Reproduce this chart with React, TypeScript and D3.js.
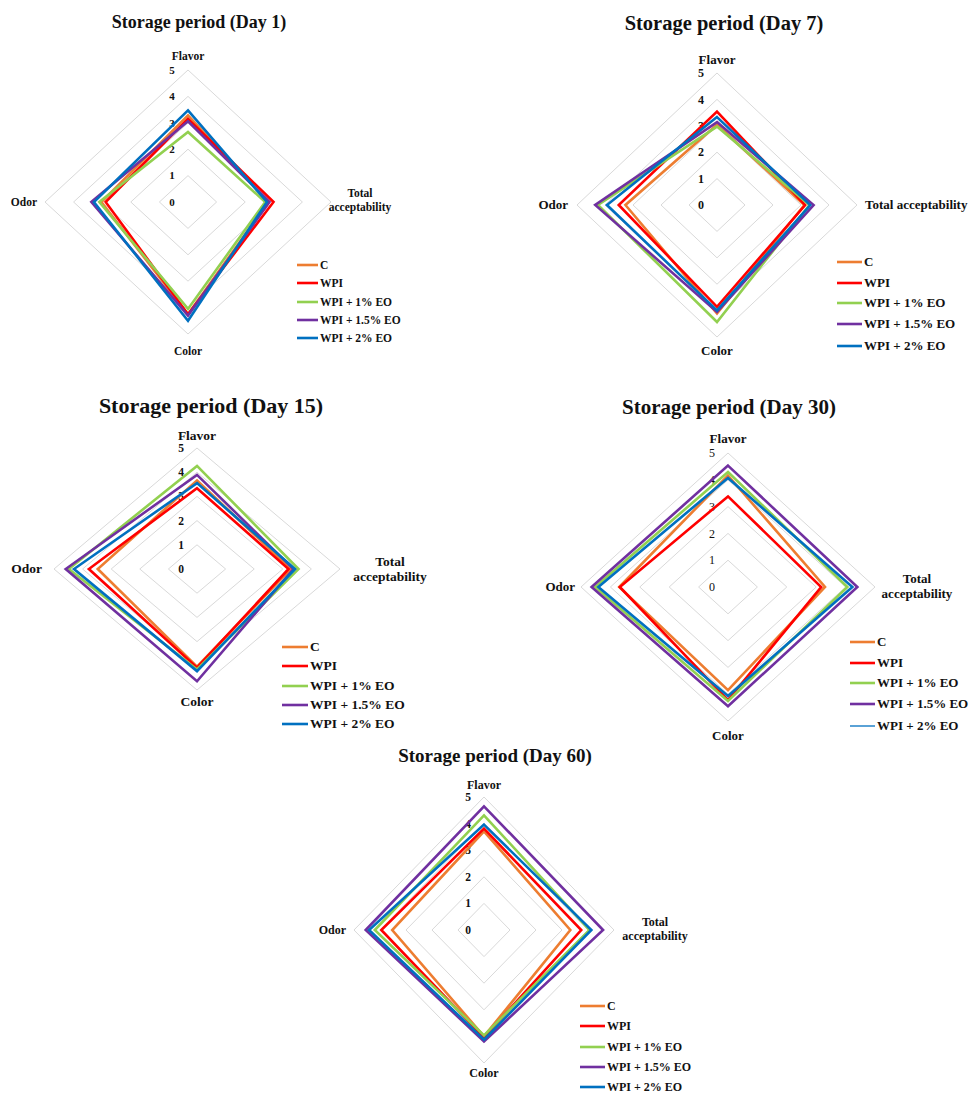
import React, { useEffect, useRef } from 'react';
import * as d3 from 'd3';

// axis order clockwise from top
const axes = ['Flavor', 'Total acceptability', 'Color', 'Odor'];
const series = ['C', 'WPI', 'WPI + 1% EO', 'WPI + 1.5% EO', 'WPI + 2% EO'];
const colors = ['#ED7D31', '#FF0000', '#92D050', '#7030A0', '#0070C0'];
const ticks = [0, 1, 2, 3, 4, 5];

// rows = series, values = [Flavor, Total acceptability, Color, Odor]
const day1 = [
  [3.28, 2.81, 4.25, 3.03],
  [3.15, 2.99, 4.25, 2.88],
  [2.65, 2.70, 4.05, 3.10],
  [3.06, 2.85, 4.30, 3.38],
  [3.47, 2.76, 4.50, 3.29],
];
const day7 = [
  [3.04, 3.12, 4.11, 3.27],
  [3.54, 3.15, 3.86, 3.51],
  [2.97, 3.30, 4.43, 4.25],
  [3.14, 3.45, 4.05, 4.35],
  [3.33, 3.33, 3.99, 3.93],
];
const day15 = [
  [3.66, 3.28, 4.04, 3.47],
  [3.34, 3.20, 4.08, 3.78],
  [4.26, 3.55, 4.15, 4.48],
  [3.89, 3.37, 4.64, 4.59],
  [3.55, 3.43, 4.22, 4.30],
];
const day30 = [
  [4.16, 3.30, 3.85, 3.70],
  [3.38, 3.17, 4.22, 3.68],
  [4.29, 4.06, 4.25, 4.52],
  [4.53, 4.40, 4.45, 4.64],
  [4.07, 4.23, 4.07, 4.41],
];
const day60 = [
  [3.71, 3.32, 4.00, 3.53],
  [3.81, 3.74, 4.04, 3.95],
  [4.31, 4.06, 3.96, 4.20],
  [4.65, 4.58, 4.19, 4.55],
  [3.96, 4.13, 4.12, 4.42],
];

const panels = [
  { title: 'Storage period (Day 1)', data: day1, cx: 188, cy: 202, rx: 143, ry: 132, tx: 199, ty: 28,
    flavorY: 60, colorY: 355, odorX: 37, ta: { x: 360, ys: [197, 211], anchor: 'middle' },
    leg: { x: 297, len: 21, ys: [265, 283, 302, 320, 338] }, bold: true, fs: 11.5, tfs: 18, kfs: 11 },
  { title: 'Storage period (Day 7)', data: day7, cx: 717, cy: 205, rx: 140, ry: 132, tx: 724, ty: 30,
    flavorY: 64, colorY: 355, odorX: 568, ta: { x: 865, ys: [209], anchor: 'start' },
    leg: { x: 837, len: 25, ys: [262, 283, 303, 324, 346] }, bold: true, fs: 13, tfs: 20.5, kfs: 12 },
  { title: 'Storage period (Day 15)', data: day15, cx: 197, cy: 569, rx: 143, ry: 121, tx: 211, ty: 413,
    flavorY: 440, colorY: 706, odorX: 42, ta: { x: 390, ys: [566, 581], anchor: 'middle' },
    leg: { x: 282, len: 26, ys: [647, 666, 686, 705, 724] }, bold: true, fs: 13.5, tfs: 22, kfs: 11.5 },
  { title: 'Storage period (Day 30)', data: day30, cx: 728, cy: 587, rx: 147, ry: 134, tx: 729, ty: 414,
    flavorY: 443, colorY: 740, odorX: 575, ta: { x: 917, ys: [583, 598], anchor: 'middle' },
    leg: { x: 850, len: 25, ys: [642, 663, 683, 704, 726] }, bold: false, fs: 13, tfs: 21, kfs: 12 },
  { title: 'Storage period (Day 60)', data: day60, cx: 484, cy: 930, rx: 130, ry: 133, tx: 495, ty: 762,
    flavorY: 789, colorY: 1077, odorX: 346, ta: { x: 655, ys: [926, 940], anchor: 'middle' },
    leg: { x: 580, len: 25, ys: [1006, 1026, 1047, 1067, 1087] }, bold: true, fs: 12, tfs: 19, kfs: 11.5 },
];

const FONT = '"Liberation Serif", "Times New Roman", serif';

const App: React.FC = () => {
  const svgRef = useRef<SVGSVGElement>(null);

  useEffect(() => {
    if (!svgRef.current) return;
    const svg = d3.select(svgRef.current);
    svg.selectAll('*').remove();
    svg.append('rect').attr('width', 972).attr('height', 1095).attr('fill', '#fff');

    panels.forEach(p => {
      const g = svg.append('g').style('font-family', FONT);
      const sx = d3.scaleLinear().domain([0, 5]).range([0, p.rx]);
      const sy = d3.scaleLinear().domain([0, 5]).range([0, p.ry]);
      const pt = (v: number, i: number): [number, number] => {
        const a = (i * Math.PI) / 2;
        return [p.cx + sx(v) * Math.sin(a), p.cy - sy(v) * Math.cos(a)];
      };
      const line = d3.line<[number, number]>().curve(d3.curveLinearClosed);

      // grid rings
      ticks.filter(t => t > 0).forEach(t => {
        g.append('path')
          .attr('d', line(axes.map((_, i) => pt(t, i))))
          .attr('fill', 'none')
          .attr('stroke', '#d9d9d9')
          .attr('stroke-width', 1);
      });

      // tick labels
      g.selectAll('text.tick')
        .data(ticks)
        .enter()
        .append('text')
        .attr('x', p.cx - 16)
        .attr('y', t => p.cy - sy(t))
        .attr('dy', '0.35em')
        .attr('text-anchor', 'middle')
        .attr('font-size', p.kfs)
        .attr('font-weight', p.bold ? 'bold' : 'normal')
        .attr('fill', '#111')
        .text(t => t);

      // series
      p.data.forEach((vals, si) => {
        g.append('path')
          .attr('d', line(vals.map((v, i) => pt(v, i))))
          .attr('fill', 'none')
          .attr('stroke', colors[si])
          .attr('stroke-width', 2.6)
          .attr('stroke-linejoin', 'miter');
      });

      // axis labels
      const lab = (x: number, y: number, txt: string, anchor: string) =>
        g.append('text')
          .attr('x', x).attr('y', y)
          .attr('text-anchor', anchor)
          .attr('font-size', p.fs)
          .attr('font-weight', 'bold')
          .attr('fill', '#111')
          .text(txt);
      lab(p.cx, p.flavorY, axes[0], 'middle');
      lab(p.cx, p.colorY, axes[2], 'middle');
      lab(p.odorX, p.cy + 4, axes[3], 'end');
      if (p.ta.ys.length === 1) {
        lab(p.ta.x, p.ta.ys[0], axes[1], p.ta.anchor);
      } else {
        lab(p.ta.x, p.ta.ys[0], 'Total', p.ta.anchor);
        lab(p.ta.x, p.ta.ys[1], 'acceptability', p.ta.anchor);
      }

      // title
      g.append('text')
        .attr('x', p.tx).attr('y', p.ty)
        .attr('text-anchor', 'middle')
        .attr('font-size', p.tfs)
        .attr('font-weight', 'bold')
        .attr('fill', '#111')
        .text(p.title);

      // legend
      series.forEach((s, si) => {
        const y = p.leg.ys[si];
        g.append('line')
          .attr('x1', p.leg.x).attr('x2', p.leg.x + p.leg.len)
          .attr('y1', y).attr('y2', y)
          .attr('stroke', colors[si])
          .attr('stroke-width', !p.bold && si === 4 ? 1.3 : 2.6);
        g.append('text')
          .attr('x', p.leg.x + p.leg.len + 2)
          .attr('y', y + 4)
          .attr('font-size', p.fs)
          .attr('font-weight', 'bold')
          .attr('fill', '#111')
          .text(s);
      });
    });
  }, []);

  return (
    <svg
      ref={svgRef}
      width={972}
      height={1095}
      style={{ position: 'absolute', left: 0, top: 0, display: 'block' }}
    />
  );
};

export default App;
